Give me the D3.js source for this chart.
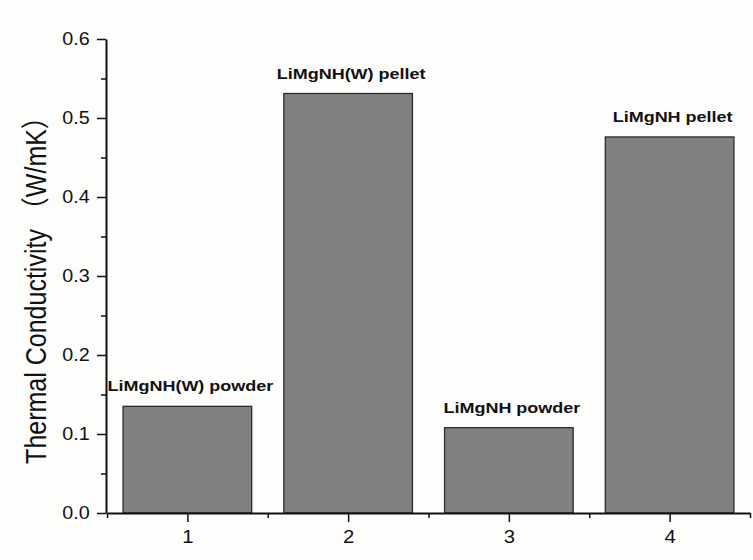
<!DOCTYPE html>
<html><head><meta charset="utf-8">
<script src="https://cdn.jsdelivr.net/npm/d3@7"></script>
<style>
html,body{margin:0;padding:0;background:#fdfdfb;}
text{font-family:"Liberation Sans",Arial,"Noto Sans CJK SC",sans-serif;fill:#111;}
</style></head>
<body>
<svg id="c" width="753" height="560"></svg>
<script>
const categories = [1, 2, 3, 4];
const values = [0.135, 0.531, 0.108, 0.476];
const barLabels = ["LiMgNH(W) powder", "LiMgNH(W) pellet", "LiMgNH powder", "LiMgNH pellet"];
const yTicks = [0.0, 0.1, 0.2, 0.3, 0.4, 0.5, 0.6];
const yMinorTicks = [0.05, 0.15, 0.25, 0.35, 0.45, 0.55];
const xMinorTicks = [0.5, 1.5, 2.5, 3.5, 4.5];
const yTitle = "Thermal Conductivity （W/mK）";

const svg = d3.select("#c");
const x = d3.scaleLinear().domain([0.5, 4.5]).range([107, 750]);
const y = d3.scaleLinear().domain([0, 0.6]).range([513, 39]);
const halfBar = 0.4;

// bars
svg.append("g").selectAll("rect").data(categories).join("rect")
  .attr("x", (d) => x(d - halfBar))
  .attr("width", (d) => x(d + halfBar) - x(d - halfBar))
  .attr("y", (d, i) => y(values[i]))
  .attr("height", (d, i) => y(0) - y(values[i]))
  .attr("fill", "#808080")
  .attr("stroke", "#2a2a2a")
  .attr("stroke-width", 1.3);

// bar labels
svg.append("g").selectAll("text").data(categories).join("text")
  .attr("transform", (d, i) => `translate(${x(d) + 3},${y(values[i]) - 15}) scale(1.2,1)`)
  .attr("text-anchor", "middle")
  .style("font-weight", "bold")
  .style("font-size", "15px")
  .text((d, i) => barLabels[i]);

// minor ticks
const yMinor = d3.axisLeft(y).tickValues(yMinorTicks).tickSize(5).tickFormat("");
svg.append("g").attr("transform", "translate(106,0)").call(yMinor)
  .call(g => g.select(".domain").remove())
  .call(g => g.selectAll("line").attr("stroke", "#111").attr("stroke-width", 1.5));
const xMinor = d3.axisBottom(x).tickValues(xMinorTicks).tickSize(5).tickFormat("");
svg.append("g").attr("transform", "translate(0,513)").call(xMinor)
  .call(g => g.select(".domain").remove())
  .call(g => g.selectAll("line").attr("stroke", "#111").attr("stroke-width", 1.5));

// y axis
const yAxis = d3.axisLeft(y).tickValues(yTicks).tickSize(9).tickSizeOuter(0).tickPadding(7)
  .tickFormat(d3.format(".1f"));
svg.append("g").attr("transform", "translate(106,0)").call(yAxis)
  .call(g => g.select(".domain").attr("stroke", "#111").attr("stroke-width", 2))
  .call(g => g.selectAll("line").attr("stroke", "#111").attr("stroke-width", 1.5))
  .call(g => g.selectAll("text").style("font-size", "17.5px").attr("font-family", null)
      .attr("transform", "scale(1.13,1)").attr("x", -14.5));

// x axis
const xAxis = d3.axisBottom(x).tickValues(categories).tickSize(9).tickSizeOuter(0).tickPadding(8)
  .tickFormat(d3.format("d"));
svg.append("g").attr("transform", "translate(0,513)").call(xAxis)
  .call(g => g.select(".domain").attr("stroke", "#111").attr("stroke-width", 2))
  .call(g => g.selectAll("line").attr("stroke", "#111").attr("stroke-width", 1.5))
  .call(g => g.selectAll("text").style("font-size", "18px").attr("font-family", null)
      .attr("transform", "scale(1.13,1)"));

// y title
svg.append("text")
  .attr("transform", "translate(46,284) scale(1.15,1) rotate(-90)")
  .attr("text-anchor", "middle")
  .style("font-size", "25px")
  .text(yTitle);
</script>
</body></html>
